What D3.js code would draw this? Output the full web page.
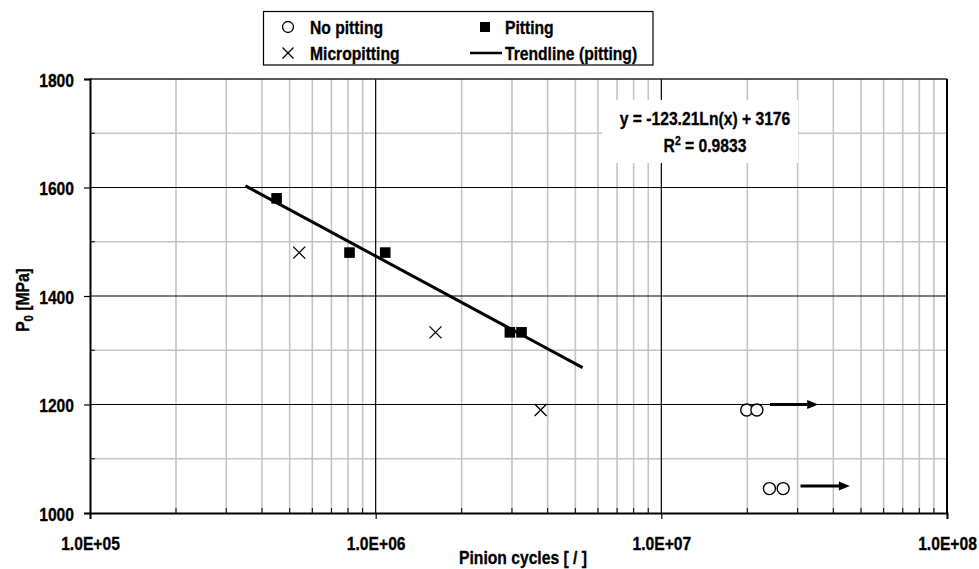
<!DOCTYPE html>
<html><head><meta charset="utf-8">
<script src="https://cdn.jsdelivr.net/npm/d3@7"></script>
<style>
body{margin:0;background:#fff;}
text{font-family:"Liberation Sans",Arial,sans-serif;font-weight:bold;fill:#000;stroke:#000;stroke-width:0.3px;}
</style></head>
<body><svg id="c" width="979" height="569"></svg>
<script>
// ---- data ----
const pittingX = [4.5e5, 8.1e5, 1.08e6, 2.95e6, 3.24e6];
const pittingY = [1580, 1480, 1480, 1333, 1333];
const microX = [5.4e5, 1.62e6, 3.78e6];
const microY = [1480, 1333, 1190];
const noPitX = [1.99e7, 2.16e7, 2.39e7, 2.67e7];
const noPitY = [1190, 1190, 1045, 1045];
const trendX = [3.5e5, 5.3e6];
const trendY = [1603, 1268];
const arrowX0 = [2.40e7, 3.07e7];
const arrowX1 = [3.54e7, 4.57e7];
const arrowY = [1200, 1050];
const yTicks = [1000, 1200, 1400, 1600, 1800];
const yMinor = [1100, 1300, 1500, 1700];
const xTicks = [1e5, 1e6, 1e7, 1e8];
const xTickLabels = ["1.0E+05", "1.0E+06", "1.0E+07", "1.0E+08"];
const legendLabels = ["No pitting", "Pitting", "Micropitting", "Trendline (pitting)"];
const eqLine1 = "y = -123.21Ln(x) + 3176";
const eqR2 = "0.9833";

const SX = 0.87, FS = 18;
const svg = d3.select("#c");
const L = 90, R = 947, T = 79, B = 513;
const x = d3.scaleLog().domain([1e5, 1e8]).range([L, R]);
const y = d3.scaleLinear().domain([1000, 1800]).range([B, T]);

function txt(g, px, py, anchor, size) {
  return g.append("text")
    .attr("transform", `translate(${px},${py}) scale(${SX},1)`)
    .attr("text-anchor", anchor || "start")
    .style("font-size", (size || FS) + "px");
}

// minor x values
const xMinor = [];
for (let e = 5; e < 8; e++) for (let m = 2; m <= 9; m++) xMinor.push(m * Math.pow(10, e));

const grid = svg.append("g");
grid.selectAll(".vm").data(xMinor).enter().append("line")
  .attr("x1", d => x(d)).attr("x2", d => x(d)).attr("y1", T).attr("y2", B)
  .attr("stroke", "#c4c4c4").attr("stroke-width", 1.6);
grid.selectAll(".hm").data(yMinor).enter().append("line")
  .attr("x1", L).attr("x2", R).attr("y1", d => y(d)).attr("y2", d => y(d))
  .attr("stroke", "#c4c4c4").attr("stroke-width", 1.6);
grid.selectAll(".vM").data(xTicks.slice(1, 3)).enter().append("line")
  .attr("x1", d => x(d)).attr("x2", d => x(d)).attr("y1", T).attr("y2", B)
  .attr("stroke", "#000").attr("stroke-width", 1.2);
grid.selectAll(".hM").data(yTicks.slice(1, 4)).enter().append("line")
  .attr("x1", L).attr("x2", R).attr("y1", d => y(d)).attr("y2", d => y(d))
  .attr("stroke", "#000").attr("stroke-width", 1.2);

// minor inward ticks
grid.selectAll(".tmx").data(xMinor).enter().append("line")
  .attr("x1", d => x(d)).attr("x2", d => x(d)).attr("y1", B - 5).attr("y2", B)
  .attr("stroke", "#000").attr("stroke-width", 1);
grid.selectAll(".tmy").data(yMinor).enter().append("line")
  .attr("x1", L).attr("x2", L + 5).attr("y1", d => y(d)).attr("y2", d => y(d))
  .attr("stroke", "#000").attr("stroke-width", 1);

// frame
svg.append("line").attr("x1", L).attr("x2", R).attr("y1", T).attr("y2", T).attr("stroke", "#222").attr("stroke-width", 1.5);
svg.append("line").attr("x1", R).attr("x2", R).attr("y1", T).attr("y2", B).attr("stroke", "#000").attr("stroke-width", 2);

// axes
const ax = svg.append("g").attr("transform", `translate(0,${B})`)
  .call(d3.axisBottom(x).tickValues(xTicks).tickSize(6).tickFormat((d, i) => xTickLabels[i]));
const ay = svg.append("g").attr("transform", `translate(${L},0)`)
  .call(d3.axisLeft(y).tickValues(yTicks).tickSize(6).tickFormat(d3.format("d")));
[ax, ay].forEach(a => {
  a.select(".domain").attr("stroke", "#000").attr("stroke-width", 2);
  a.selectAll(".tick line").attr("stroke", "#000").attr("stroke-width", 1.2);
  a.selectAll("text").style("font-size", FS + "px").attr("font-family", null).attr("fill", "#000");
});
ax.selectAll(".tick text").attr("dy", null).attr("y", 0)
  .attr("transform", `translate(0,37) scale(${SX},1)`);
ay.selectAll(".tick text").attr("dy", null).attr("x", 0)
  .attr("transform", `translate(-16,7) scale(${SX},1)`);

// axis titles
txt(svg, 523, 564, "middle").text("Pinion cycles [ / ]");
const yt = svg.append("text")
  .attr("transform", `translate(29,300) rotate(-90) scale(${SX},1)`)
  .attr("text-anchor", "middle").style("font-size", FS + "px");
yt.append("tspan").text("P");
yt.append("tspan").attr("dy", 4).style("font-size", "13px").text("0");
yt.append("tspan").attr("dy", -4).text(" [MPa]");

// equation box
svg.append("rect").attr("x", 602).attr("y", 100).attr("width", 196).attr("height", 63).attr("fill", "#fff");
txt(svg, 705, 125, "middle").text(eqLine1);
const r2 = txt(svg, 705, 151.5, "middle");
r2.append("tspan").text("R");
r2.append("tspan").attr("dy", -7).style("font-size", "12px").text("2");
r2.append("tspan").attr("dy", 7).text(" = " + eqR2);

// trendline
svg.append("path").datum(trendX.map((d, i) => [d, trendY[i]]))
  .attr("d", d3.line().x(d => x(d[0])).y(d => y(d[1])))
  .attr("stroke", "#000").attr("stroke-width", 3).attr("fill", "none");

// pitting squares
svg.selectAll(".sq").data(pittingX).enter().append("rect")
  .attr("x", d => x(d) - 5.3).attr("y", (d, i) => y(pittingY[i]) - 5.3)
  .attr("width", 10.6).attr("height", 10.6).attr("fill", "#000");

// micropitting crosses
const cross = (cx, cy, s) => `M${cx - s},${cy - s}L${cx + s},${cy + s}M${cx - s},${cy + s}L${cx + s},${cy - s}`;
svg.selectAll(".cr").data(microX).enter().append("path")
  .attr("d", (d, i) => cross(x(d), y(microY[i]), 6))
  .attr("stroke", "#000").attr("stroke-width", 1.3).attr("fill", "none");

// no pitting circles
svg.selectAll(".ci").data(noPitX).enter().append("circle")
  .attr("cx", d => x(d)).attr("cy", (d, i) => y(noPitY[i])).attr("r", 6)
  .attr("fill", "#fff").attr("stroke", "#000").attr("stroke-width", 1.4);

// arrows
arrowX0.forEach((d, i) => {
  const x0 = x(d), x1 = x(arrowX1[i]), yy = y(arrowY[i]);
  svg.append("line").attr("x1", x0).attr("x2", x1 - 8).attr("y1", yy).attr("y2", yy)
    .attr("stroke", "#000").attr("stroke-width", 3);
  svg.append("path").attr("d", `M${x1},${yy}L${x1 - 11},${yy - 4.5}L${x1 - 11},${yy + 4.5}Z`).attr("fill", "#000");
});

// legend
const lg = svg.append("g");
lg.append("rect").attr("x", 263.5).attr("y", 11.5).attr("width", 389.5).attr("height", 53.5)
  .attr("fill", "#fff").attr("stroke", "#000").attr("stroke-width", 1.2);
lg.append("circle").attr("cx", 288).attr("cy", 27).attr("r", 5.5).attr("fill", "#fff").attr("stroke", "#000").attr("stroke-width", 1.3);
lg.append("rect").attr("x", 480).attr("y", 22).attr("width", 10).attr("height", 10).attr("fill", "#000");
lg.append("path").attr("d", cross(288, 53, 5.5)).attr("stroke", "#000").attr("stroke-width", 1.3);
lg.append("line").attr("x1", 470).attr("x2", 502).attr("y1", 53).attr("y2", 53).attr("stroke", "#000").attr("stroke-width", 2.5);
txt(lg, 310, 33.5).text(legendLabels[0]);
txt(lg, 505, 33.5).text(legendLabels[1]);
txt(lg, 310, 60).text(legendLabels[2]);
txt(lg, 505, 60).text(legendLabels[3]);
</script></body></html>
